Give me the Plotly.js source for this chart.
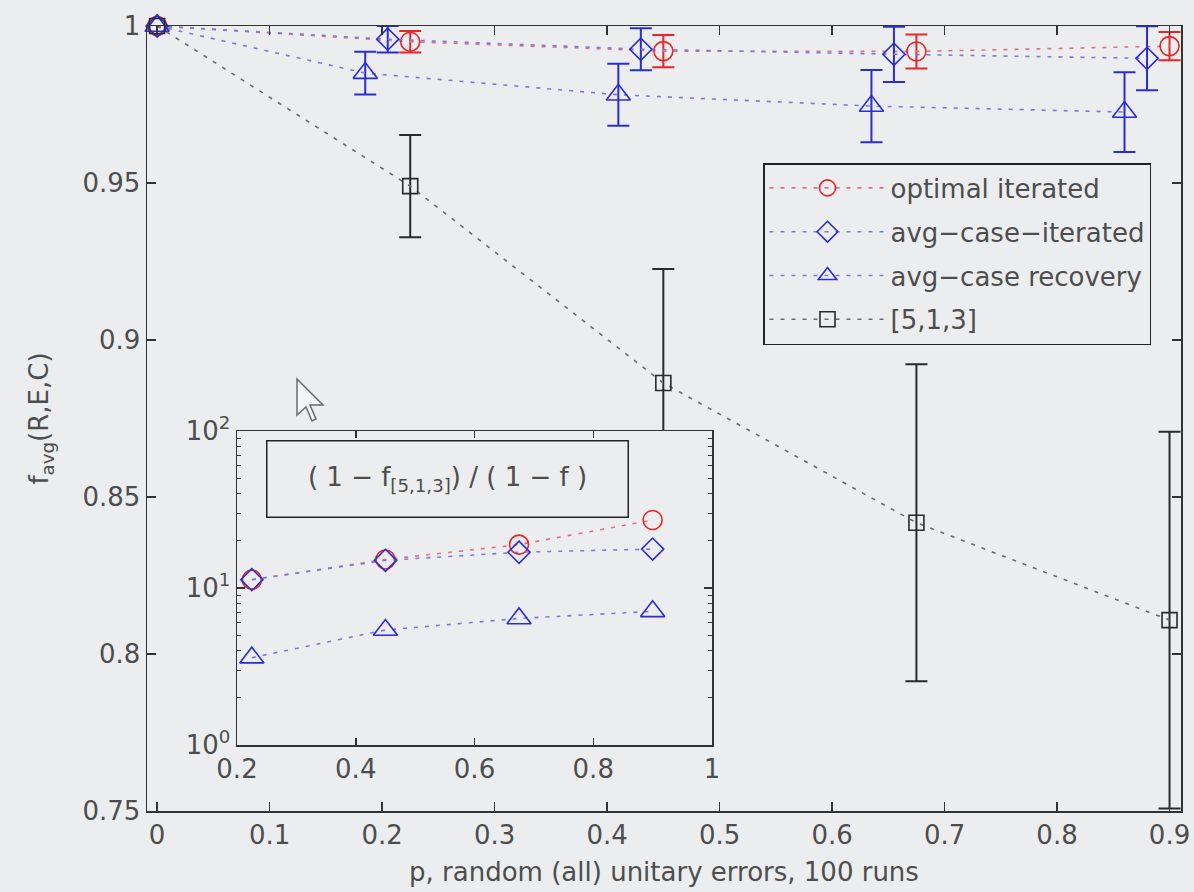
<!DOCTYPE html>
<html><head><meta charset="utf-8">
<script src="https://cdn.plot.ly/plotly-3.0.1.min.js"></script>
<style>html,body{margin:0;padding:0;background:#ebecee;}#chart{width:1194px;height:892px;}</style>
</head><body><div id="chart"></div>
<script>
// ---- main panel data ----
const xOptimal = [0, 0.225, 0.45, 0.675, 0.9];
const yOptimal = [1, 0.995, 0.992, 0.9919, 0.9936];
const eOptimal = [NaN, 0.0034, 0.0051, 0.0054, 0.0045];

const xAvgIter = [0, 0.205, 0.43, 0.655, 0.88];
const yAvgIter = [1, 0.9958, 0.9926, 0.991, 0.9897];
const eAvgIter = [NaN, 0.0042, 0.0067, 0.0088, 0.0102];

const xAvgRec = [0, 0.185, 0.41, 0.635, 0.86];
const yAvgRec = [1, 0.985, 0.9781, 0.9745, 0.9726];
const eAvgRec = [NaN, 0.0068, 0.0099, 0.0115, 0.0127];

const x513 = [0, 0.225, 0.45, 0.675, 0.9];
const y513 = [1, 0.949, 0.8863, 0.8418, 0.8108];
const e513 = [NaN, 0.0163, 0.0363, 0.0505, 0.06];

const seriesNames = ['optimal iterated', 'avg\u2212case\u2212iterated', 'avg\u2212case recovery', '[5,1,3]'];

// ---- inset data: (1 - f_[5,1,3]) / (1 - f) ----
const xRatio = [0.225, 0.45, 0.675, 0.9];
const ratioOptimal = [11.3, 15.2, 18.9, 27.1];
const ratioAvgIter = [11.3, 15.0, 16.9, 17.7];
const ratioAvgRec = [3.6, 5.4, 6.4, 7.1];

// ---- tick labels ----
const xTicks = [0, 0.1, 0.2, 0.3, 0.4, 0.5, 0.6, 0.7, 0.8, 0.9];
const xTickText = ['0', '0.1', '0.2', '0.3', '0.4', '0.5', '0.6', '0.7', '0.8', '0.9'];
const yTicks = [0.75, 0.8, 0.85, 0.9, 0.95, 1];
const yTickText = ['0.75', '0.8', '0.85', '0.9', '0.95', '1'];
const insetXTicks = [0.2, 0.4, 0.6, 0.8, 1];
const insetXTickText = ['0.2', '0.4', '0.6', '0.8', '1'];
const insetYTicks = [1, 10, 100];
const insetYTickText = ['10<sup>0</sup>', '10<sup>1</sup>', '10<sup>2</sup>'];
const insetYMinor = [2, 3, 4, 5, 6, 7, 8, 9, 20, 30, 40, 50, 60, 70, 80, 90];

const RED = '#e8262a', BLUE = '#2c2cd6', BLACK = '#2a2a2a';
const RED_L = '#e07080', BLUE_L = '#7a7ad8', BLACK_L = '#6a6a6a';
const BG = '#ecedef';
const dashPat = '4px,7px';

function mainTrace(name, x, y, e, color, lineColor, symbol, size) {
  return {
    type: 'scatter', mode: 'lines+markers', name: name, x: x, y: y,
    xaxis: 'x', yaxis: 'y', cliponaxis: false, legendgroup: name,
    line: {color: lineColor, width: 1.6, dash: dashPat},
    marker: {symbol: symbol, size: size, color: color, line: {color: color, width: 1.6}},
    error_y: {type: 'data', array: e, visible: true, color: color, thickness: 2, width: 11}
  };
}
function insetTrace(name, x, y, color, lineColor, symbol, size) {
  return {
    type: 'scatter', mode: 'lines+markers', name: name, x: x, y: y,
    xaxis: 'x2', yaxis: 'y2', showlegend: false, cliponaxis: false,
    line: {color: lineColor, width: 1.6, dash: dashPat},
    marker: {symbol: symbol, size: size, color: color, line: {color: color, width: 1.6}}
  };
}

const data = [
  mainTrace(seriesNames[0], xOptimal, yOptimal, eOptimal, RED, RED_L, 'circle-open', 19),
  mainTrace(seriesNames[1], xAvgIter, yAvgIter, eAvgIter, BLUE, BLUE_L, 'diamond-open', 17),
  mainTrace(seriesNames[2], xAvgRec, yAvgRec, eAvgRec, BLUE, BLUE_L, 'triangle-up-open', 21),
  mainTrace(seriesNames[3], x513, y513, e513, BLACK, BLACK_L, 'square-open', 15),
  insetTrace(seriesNames[0], xRatio, ratioOptimal, RED, RED_L, 'circle-open', 19),
  insetTrace(seriesNames[1], xRatio, ratioAvgIter, BLUE, BLUE_L, 'diamond-open', 17),
  insetTrace(seriesNames[2], xRatio, ratioAvgRec, BLUE, BLUE_L, 'triangle-up-open', 21)
];

// mouse pointer visible in the screenshot (decoration)
const L = 147, R = 1181, T = 26, B = 811;
const cursorPts = [[0,0],[0,36],[9,28],[15,42],[19,40],[13,26],[26,26]];
const tip = [297, 379];
const cursorPath = 'M' + cursorPts.map(p => [((tip[0]+p[0])-L)/(R-L), (B-(tip[1]+p[1]))/(B-T)].join(',')).join(' L') + ' Z';

const axisCommon = {
  showline: true, linecolor: '#333', linewidth: 1.5, mirror: 'ticks',
  ticks: 'inside', ticklen: 9, tickwidth: 1.5, tickcolor: '#333',
  showgrid: false, zeroline: false, tickfont: {size: 26, color: '#4d4d4d'}
};

const layout = {
  width: 1194, height: 892,
  paper_bgcolor: BG, plot_bgcolor: BG,
  margin: {l: L, r: 1194 - R, t: T, b: 892 - B, pad: 0},
  font: {family: 'DejaVu Sans, Liberation Sans, sans-serif', size: 26, color: '#4d4d4d'},
  showlegend: true,
  legend: {
    x: (763 - L)/(R - L), y: (B - 163)/(B - T), xanchor: 'left', yanchor: 'top',
    bgcolor: BG, bordercolor: '#222', borderwidth: 1.5,
    font: {size: 26, color: '#4d4d4d'}, itemwidth: 116, tracegroupgap: 7,
    traceorder: 'grouped'
  },
  xaxis: Object.assign({}, axisCommon, {
    domain: [0, 1], anchor: 'y', range: [-0.009, 0.9102],
    tickmode: 'array', tickvals: xTicks, ticktext: xTickText,
    title: {text: 'p, random (all) unitary errors, 100 runs', font: {size: 26, color: '#4d4d4d'}, standoff: 14}
  }),
  yaxis: Object.assign({}, axisCommon, {
    domain: [0, 1], anchor: 'x', range: [0.75, 1.0],
    tickmode: 'array', tickvals: yTicks, ticktext: yTickText,
    title: {text: 'f<sub>avg</sub>(R,E,C)', font: {size: 26, color: '#4d4d4d'}, standoff: 26}
  }),
  xaxis2: Object.assign({}, axisCommon, {
    domain: [(237 - L)/(R - L), (712 - L)/(R - L)], anchor: 'y2', range: [0.2, 1.0],
    tickmode: 'array', tickvals: insetXTicks, ticktext: insetXTickText, ticklen: 7
  }),
  yaxis2: Object.assign({}, axisCommon, {
    domain: [(B - 745)/(B - T), (B - 431)/(B - T)], anchor: 'x2', type: 'log', range: [0, 2],
    tickmode: 'array', tickvals: insetYTicks, ticktext: insetYTickText, ticklen: 8,
    minor: {ticks: 'inside', ticklen: 4, tickwidth: 1, tickcolor: '#333', tickvals: insetYMinor, showgrid: false}
  }),
  annotations: [{
    xref: 'x2 domain', yref: 'y2 domain', x: (266 - 237)/475, y: (745 - 440)/314,
    xanchor: 'left', yanchor: 'top', showarrow: false,
    text: '( 1 \u2212 f<sub>[5,1,3]</sub>) / ( 1 \u2212 f )',
    font: {size: 26, color: '#4d4d4d'},
    bordercolor: '#222', borderwidth: 1.5, borderpad: 1, bgcolor: BG,
    width: 358, height: 73, align: 'center', valign: 'middle'
  }],
  shapes: [{
    type: 'path', xref: 'paper', yref: 'paper', path: cursorPath,
    fillcolor: '#f3f4f6', line: {color: '#6a6a6a', width: 1.5}, layer: 'above'
  }]
};

Plotly.newPlot('chart', data, layout, {displayModeBar: false, staticPlot: true});
</script>
</body></html>
